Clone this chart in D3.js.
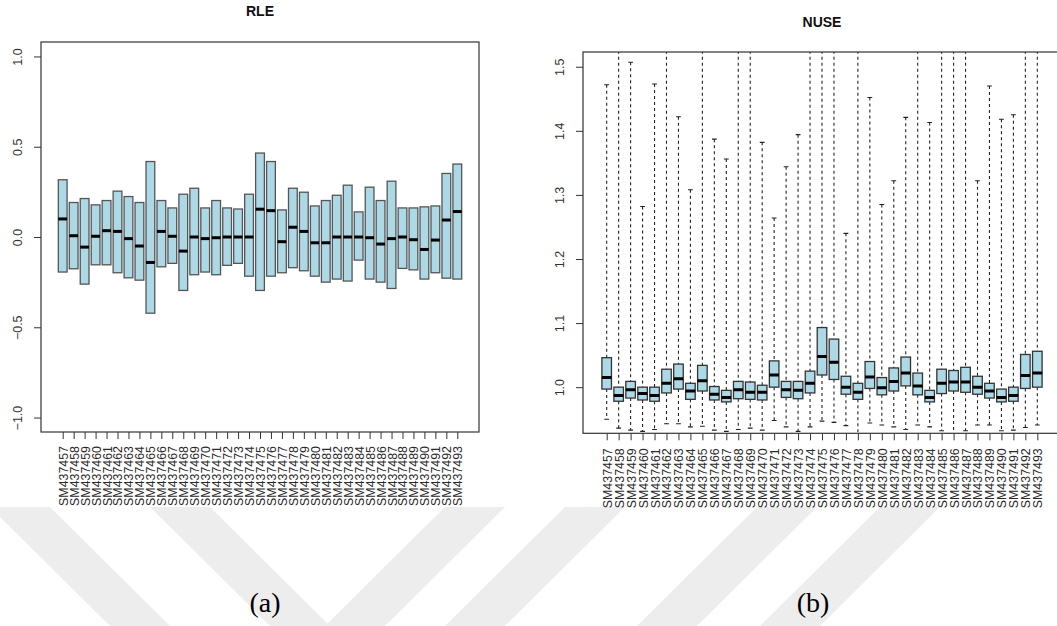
<!DOCTYPE html>
<html>
<head>
<meta charset="utf-8">
<script src="https://cdn.jsdelivr.net/npm/d3@7"></script>
<style>
  html, body { margin: 0; padding: 0; background: #fff; }
  svg { display: block; }
  text { font-family: "Liberation Sans", Arial, sans-serif; fill: #222; }
</style>
</head>
<body>
<svg id="chart" width="1057" height="626"></svg>
<script>
// ---------- DATA ----------
const samples = ["SM437457","SM437458","SM437459","SM437460","SM437461","SM437462","SM437463","SM437464","SM437465","SM437466","SM437467","SM437468","SM437469","SM437470","SM437471","SM437472","SM437473","SM437474","SM437475","SM437476","SM437477","SM437478","SM437479","SM437480","SM437481","SM437482","SM437483","SM437484","SM437485","SM437486","SM437487","SM437488","SM437489","SM437490","SM437491","SM437492","SM437493"];

// RLE boxes (upper hinge, median, lower hinge)
const rleUpper  = [0.317,0.191,0.213,0.178,0.202,0.254,0.224,0.191,0.418,0.202,0.161,0.237,0.270,0.161,0.202,0.161,0.155,0.237,0.465,0.418,0.150,0.270,0.248,0.172,0.202,0.231,0.287,0.139,0.276,0.202,0.309,0.161,0.161,0.167,0.172,0.352,0.404];
const rleMedian = [0.100,0.007,-0.056,0.004,0.035,0.031,-0.009,-0.050,-0.141,0.031,0.004,-0.078,0.000,-0.009,-0.004,0.000,0.000,0.000,0.154,0.146,-0.026,0.054,0.031,-0.032,-0.032,0.000,0.000,0.000,-0.004,-0.039,-0.009,0.000,-0.015,-0.069,-0.017,0.094,0.141];
const rleLower  = [-0.194,-0.176,-0.261,-0.154,-0.154,-0.198,-0.226,-0.239,-0.422,-0.165,-0.146,-0.296,-0.209,-0.194,-0.209,-0.157,-0.146,-0.217,-0.296,-0.217,-0.198,-0.170,-0.187,-0.217,-0.250,-0.233,-0.244,-0.128,-0.233,-0.250,-0.285,-0.174,-0.182,-0.233,-0.198,-0.228,-0.233];
const rleTicks = [-1.0, -0.5, 0.0, 0.5, 1.0];

// NUSE boxplots
const nuseWhiskerHigh = [1.472,1.600,1.507,1.282,1.473,1.600,1.422,1.308,1.600,1.387,1.356,1.600,1.600,1.382,1.264,1.344,1.394,1.600,1.600,1.600,1.240,1.600,1.452,1.285,1.322,1.421,1.600,1.413,1.600,1.600,1.600,1.322,1.470,1.418,1.425,1.600,1.600];
const nuseQ3     = [1.046,1.000,1.009,1.000,1.000,1.028,1.036,1.006,1.034,1.001,0.995,1.009,1.008,1.003,1.041,1.009,1.009,1.025,1.093,1.075,1.017,1.006,1.040,1.015,1.030,1.047,1.022,0.995,1.028,1.026,1.031,1.017,1.006,0.997,1.000,1.051,1.056];
const nuseMedian = [1.015,0.987,0.996,0.990,0.987,1.006,1.013,0.994,1.010,0.989,0.984,0.996,0.992,0.992,1.019,0.996,0.995,1.006,1.048,1.039,1.000,0.992,1.016,0.999,1.009,1.022,1.002,0.984,1.006,1.008,1.008,1.000,0.994,0.984,0.987,1.018,1.022];
const nuseQ1     = [0.997,0.978,0.983,0.980,0.978,0.991,0.997,0.981,0.994,0.980,0.977,0.982,0.981,0.980,1.000,0.984,0.982,0.991,1.019,1.012,0.989,0.981,0.998,0.988,0.994,1.002,0.988,0.977,0.990,0.994,0.992,0.989,0.983,0.977,0.978,0.998,1.000];
const nuseWhiskerLow  = [0.950,0.936,0.933,0.931,0.934,0.943,0.943,0.938,0.939,0.933,0.931,0.934,0.936,0.933,0.948,0.938,0.931,0.938,0.947,0.945,0.940,0.920,0.944,0.941,0.938,0.934,0.941,0.938,0.932,0.920,0.932,0.941,0.941,0.932,0.933,0.937,0.941];
const nuseTicks = [1.0, 1.1, 1.2, 1.3, 1.4, 1.5];

// ---------- DRAW ----------
const svg = d3.select("#chart");
const idx = d3.range(1, samples.length + 1);
const fmt = d3.format(".1f");

// watermark stripes (faint background decoration)
const wmTop = 507, wmBot = 626;
const stripes = [
  [[-10,50],[110,170]],
  [[150,210],[270,330]],
  [[445,505],[325,385]],
  [[565,625],[445,505]],
  [[757,817],[637,697]],
  [[880,940],[760,820]]
];
svg.append("g").selectAll("path").data(stripes).join("path")
  .attr("d", s => `M${s[0][0]},${wmTop}L${s[0][1]},${wmTop}L${s[1][1]},${wmBot}L${s[1][0]},${wmBot}Z`)
  .attr("fill", "#ededed");

function panel(opts) {
  const { x0, x1, yTop, yBot, yDomain, title, titleY, ticks, labelOffset } = opts;
  const x = d3.scaleLinear().domain([-0.98, samples.length + 1.98]).range([x0, x1]);
  const y = d3.scaleLinear().domain(yDomain).range([yBot, yTop]);
  const g = svg.append("g");
  const clipId = "clip" + Math.round(x0);
  g.append("clipPath").attr("id", clipId).append("rect")
    .attr("x", x0).attr("y", yTop).attr("width", x1 - x0).attr("height", yBot - yTop);

  // y axis
  const ya = g.append("g").attr("transform", `translate(${x0},0)`)
    .call(d3.axisLeft(y).tickValues(ticks).tickFormat(fmt).tickSize(7));
  ya.select(".domain").remove();
  ya.selectAll("line").attr("stroke", "#333");
  ya.selectAll("text")
    .attr("transform", "rotate(-90)")
    .attr("x", 0).attr("y", -23).attr("dy", "0.35em")
    .attr("text-anchor", "middle")
    .style("font-size", "12.5px").style("fill", "#333")
    .style("font-family", "'Liberation Sans', Arial, sans-serif");

  // x axis
  const xa = g.append("g").attr("transform", `translate(0,${yBot})`)
    .call(d3.axisBottom(x).tickValues(idx).tickFormat(i => samples[i - 1]).tickSize(7));
  xa.select(".domain").remove();
  xa.selectAll("line").attr("stroke", "#333");
  xa.selectAll("text")
    .attr("transform", "rotate(-90)")
    .attr("x", -labelOffset).attr("y", 0).attr("dy", "0.36em")
    .attr("text-anchor", "end")
    .style("font-size", "12.4px").style("fill", "#2a2a2a")
    .style("font-family", "'Liberation Sans', Arial, sans-serif");

  // title
  g.append("text").attr("x", (x0 + x1) / 2).attr("y", titleY)
    .attr("text-anchor", "middle")
    .style("font-size", "14px").style("font-weight", "bold").style("fill", "#111")
    .text(title);

  const plot = g.append("g").attr("clip-path", `url(#${clipId})`);
  return { x, y, g, plot, frame: () =>
    g.append("rect").attr("x", x0).attr("y", yTop).attr("width", x1 - x0).attr("height", yBot - yTop)
      .attr("fill", "none").attr("stroke", "#333").attr("stroke-width", 1.2) };
}

// ---- Panel (a): RLE ----
const A = panel({ x0: 41, x1: 479, yTop: 42, yBot: 432, yDomain: [-1.08, 1.08],
  title: "RLE", titleY: 16, ticks: rleTicks, labelOffset: 14 });
const bwA = (A.x(1.4) - A.x(1.0)) * 2;
A.plot.selectAll("rect.box").data(idx).join("rect").attr("class", "box")
  .attr("x", i => A.x(i) - bwA / 2).attr("width", bwA)
  .attr("y", i => A.y(rleUpper[i - 1]))
  .attr("height", i => A.y(rleLower[i - 1]) - A.y(rleUpper[i - 1]))
  .attr("fill", "#add8e6").attr("stroke", "#555").attr("stroke-width", 1.3);
A.plot.selectAll("line.med").data(idx).join("line").attr("class", "med")
  .attr("x1", i => A.x(i) - bwA / 2).attr("x2", i => A.x(i) + bwA / 2)
  .attr("y1", i => A.y(rleMedian[i - 1])).attr("y2", i => A.y(rleMedian[i - 1]))
  .attr("stroke", "#000").attr("stroke-width", 3);
A.frame();

// ---- Panel (b): NUSE ----
const B = panel({ x0: 583, x1: 1061, yTop: 52, yBot: 433.3, yDomain: [0.928, 1.523],
  title: "NUSE", titleY: 27, ticks: nuseTicks, labelOffset: 15 });
const bwB = (B.x(1.4) - B.x(1.0)) * 2;
// whiskers
B.plot.selectAll("line.wh").data(idx).join("line").attr("class", "wh")
  .attr("x1", i => B.x(i)).attr("x2", i => B.x(i))
  .attr("y1", i => B.y(nuseWhiskerHigh[i - 1])).attr("y2", i => B.y(nuseQ3[i - 1]))
  .attr("stroke", "#222").attr("stroke-width", 1.1).attr("stroke-dasharray", "3,3");
B.plot.selectAll("line.wl").data(idx).join("line").attr("class", "wl")
  .attr("x1", i => B.x(i)).attr("x2", i => B.x(i))
  .attr("y1", i => B.y(nuseQ1[i - 1])).attr("y2", i => B.y(nuseWhiskerLow[i - 1]))
  .attr("stroke", "#222").attr("stroke-width", 1.1).attr("stroke-dasharray", "3,3");
// staples
B.plot.selectAll("line.sh").data(idx).join("line").attr("class", "sh")
  .attr("x1", i => B.x(i) - bwB / 4).attr("x2", i => B.x(i) + bwB / 4)
  .attr("y1", i => B.y(nuseWhiskerHigh[i - 1])).attr("y2", i => B.y(nuseWhiskerHigh[i - 1]))
  .attr("stroke", "#222").attr("stroke-width", 1.1);
B.plot.selectAll("line.sl").data(idx).join("line").attr("class", "sl")
  .attr("x1", i => B.x(i) - bwB / 4).attr("x2", i => B.x(i) + bwB / 4)
  .attr("y1", i => B.y(nuseWhiskerLow[i - 1])).attr("y2", i => B.y(nuseWhiskerLow[i - 1]))
  .attr("stroke", "#222").attr("stroke-width", 1.1);
// boxes
B.plot.selectAll("rect.box").data(idx).join("rect").attr("class", "box")
  .attr("x", i => B.x(i) - bwB / 2).attr("width", bwB)
  .attr("y", i => B.y(nuseQ3[i - 1]))
  .attr("height", i => B.y(nuseQ1[i - 1]) - B.y(nuseQ3[i - 1]))
  .attr("fill", "#add8e6").attr("stroke", "#333").attr("stroke-width", 1.3);
B.plot.selectAll("line.med").data(idx).join("line").attr("class", "med")
  .attr("x1", i => B.x(i) - bwB / 2).attr("x2", i => B.x(i) + bwB / 2)
  .attr("y1", i => B.y(nuseMedian[i - 1])).attr("y2", i => B.y(nuseMedian[i - 1]))
  .attr("stroke", "#000").attr("stroke-width", 3);
B.frame();

// captions
svg.append("text").attr("x", 265).attr("y", 612).attr("text-anchor", "middle")
  .style("font-family", "'Liberation Serif', 'Times New Roman', serif").style("font-size", "28px").style("fill", "#000")
  .text("(a)");
svg.append("text").attr("x", 813).attr("y", 612).attr("text-anchor", "middle")
  .style("font-family", "'Liberation Serif', 'Times New Roman', serif").style("font-size", "28px").style("fill", "#000")
  .text("(b)");
</script>
</body>
</html>
